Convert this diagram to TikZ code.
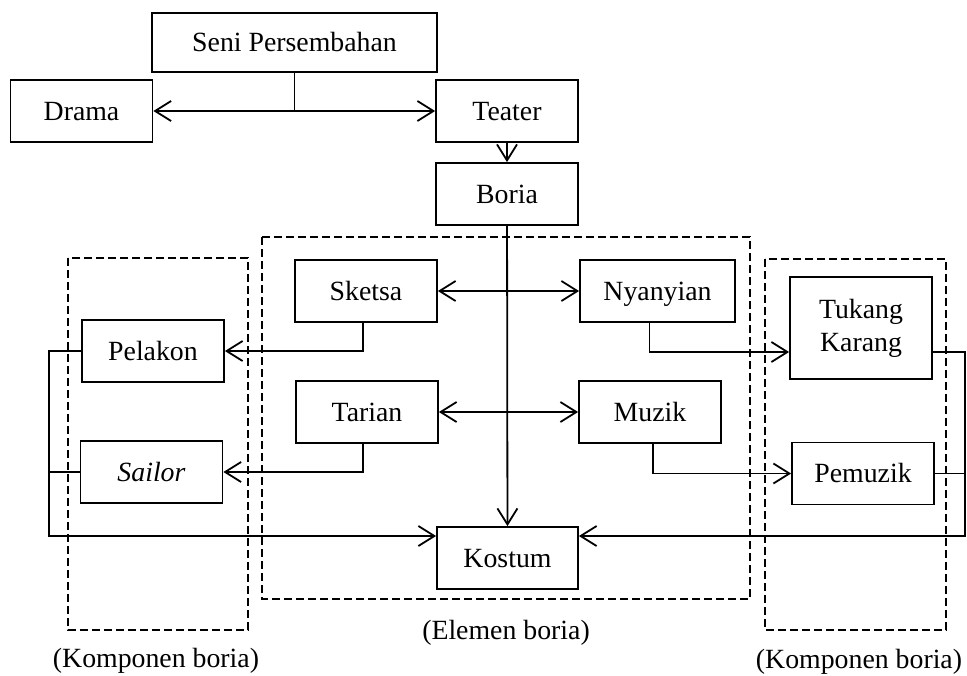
\documentclass[tikz,border=0pt]{standalone}
\usepackage{fontspec}
\setmainfont{Liberation Serif}
\usepackage{tikz}
\usetikzlibrary{arrows.meta, positioning, calc}

\begin{document}
\begin{tikzpicture}[x=0.5pt, y=-0.5pt, font={\fontsize{13.9}{16.5}\selectfont},
>={Straight Barb[length=8pt, width=10pt]}, line width=0.9pt,
box/.style={draw, minimum width=71pt, minimum height=31pt, inner sep=0pt, align=center,
  text height=10pt, text depth=1pt},
group/.style={draw, dashed, dash pattern=on 4pt off 2pt}
]
    \useasboundingbox (0, 0) rectangle (967, 675);

    % Top boxes
    \node (seni) at (294.5, 42.5) [box, minimum width=142.5pt, minimum height=29.5pt] {Seni Persembahan};
    \node (drama) at (81.5, 111) [box] {Drama};
    \node (teater) at (507, 111) [box] {Teater};
    \node (boria) at (507, 194) [box] {Boria};

    \draw [<->] (drama) -- (teater);
    \draw (seni.south) -- (seni.south |- drama.east);
    \draw [->] (teater) -- (boria);

    % Group frames
    \draw [group] (262, 237) rectangle (750, 599);
    \draw [group] (68, 258) rectangle (248, 630);
    \draw [group] (765, 259) rectangle (946, 630);
    \node (elemen) at (506, 633) {(Elemen boria)};
    \node (kompL) at (156, 661) {(Komponen boria)};
    \node (kompR) at (859, 662) {(Komponen boria)};

    % Elemen boria
    \node (sketsa) at (366, 291) [box] {Sketsa};
    \node (nyanyian) at (657.5, 291) [box, minimum width=77.5pt] {Nyanyian};
    \node (tarian) at (367, 412) [box] {Tarian};
    \node (muzik) at (650, 412) [box] {Muzik};
    \node (kostum) at (507.5, 558) [box, minimum width=70.5pt] {Kostum};

    % Komponen boria
    \node (pelakon) at (153, 351) [box] {Pelakon};
    \node (sailor) at (151.5, 472) [box] {\textit{Sailor}};
    \node (tukang) at (861, 328) [box, minimum height=51pt, text height=, text depth=] {Tukang\\Karang};
    \node (pemuzik) at (863, 473.5) [box] {Pemuzik};

    % Connections
    \draw [->] (boria) -- (kostum);
    \draw [<->] (sketsa) -- (nyanyian);
    \draw [<->] (tarian) -- (muzik);
    \draw [->] ([xshift=-1.5pt]sketsa.south) |- (pelakon.east);
    \draw [->] ([xshift=-2pt]tarian.south) |- (sailor.east);
    \draw [->] ([xshift=-4pt]nyanyian.south) |- ([yshift=-12pt]tukang.west);
    \draw [->] ([xshift=1.5pt]muzik.south) |- (pemuzik.west);

    \coordinate (lb) at (49, 536);
    \coordinate (rb) at (965, 536);
    \draw [->] (pelakon.west) -| (lb) -- (kostum.west |- lb);
    \draw (sailor.west) -- (sailor.west -| lb);
    \draw [->] ([yshift=-12pt]tukang.east) -| (rb) -- (kostum.east |- rb);
    \draw (pemuzik.east) -- (pemuzik.east -| rb);

\end{tikzpicture}
\end{document}
